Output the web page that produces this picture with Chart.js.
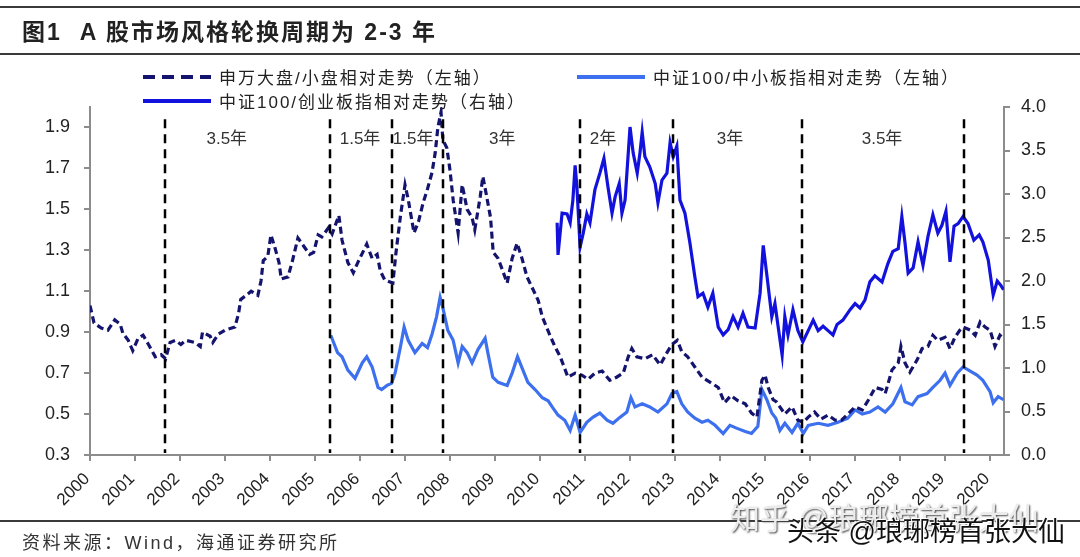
<!DOCTYPE html>
<html lang="zh-CN">
<head>
<meta charset="UTF-8">
<title>A股市场风格轮换周期为 2-3 年</title>
<script src="https://cdn.jsdelivr.net/npm/chart.js"></script>
<style>
    html, body { margin: 0; padding: 0; background: #fff; }
    body {
        width: 1080px; height: 557px; position: relative; overflow: hidden;
        font-family: "Liberation Sans", "Noto Sans CJK SC", sans-serif; color: #222;
    }
    #chart { position: absolute; left: 0; top: 0; }
    .rule { position: absolute; left: 0; width: 1080px; height: 2px; background: #3a3a3a; }
    .title { position: absolute; left: 22px; top: 13px; font-size: 23px; font-weight: bold; letter-spacing: 2px; white-space: nowrap; }
    .title .main { margin-left: 18px; }
    .legend-item { position: absolute; display: flex; align-items: center; font-size: 17px; letter-spacing: 2px; white-space: nowrap; color: #222; }
    .legend-item .swatch { width: 68px; height: 4px; margin-right: 8px; }
    .source { position: absolute; left: 22px; top: 528px; font-size: 18px; letter-spacing: 2.5px; color: #333; white-space: nowrap; }
    .wm1 { position: absolute; left: 730px; top: 494px; font-size: 30px; color: #ececec; text-shadow: 1px 1px 2px #444; white-space: nowrap; }
    .wm2 { position: absolute; left: 787px; top: 510px; font-size: 27px; color: #111; text-shadow: 1px 1px 0 #fff, -1px -1px 0 #fff; white-space: nowrap; }
</style>
</head>
<body>
<canvas id="chart" width="1080" height="557"></canvas>
<div class="rule" style="top:6px"></div>
<div class="title"><span>图1</span><span class="main">A 股市场风格轮换周期为 2-3 年</span></div>
<div class="rule" style="top:53px"></div>
<div id="legend"></div>
<div class="rule" style="top:520px"></div>
<div class="source">资料来源：Wind，海通证券研究所</div>
<div class="wm1">知乎 @琅琊榜首张大仙</div>
<div class="wm2">头条 @琅琊榜首张大仙</div>

<script>
// 申万大盘/小盘相对走势（左轴）
const swYears = [2000.0,2000.09,2000.25,2000.4,2000.55,2000.67,2000.73,2000.85,2000.95,2001.07,2001.18,2001.3,2001.45,2001.58,2001.68,2001.78,2001.9,2002.02,2002.13,2002.33,2002.45,2002.5,2002.67,2002.73,2002.85,2003.0,2003.22,2003.3,2003.35,2003.47,2003.58,2003.73,2003.8,2003.85,2003.95,2004.02,2004.1,2004.2,2004.25,2004.4,2004.5,2004.62,2004.75,2004.88,2004.97,2005.07,2005.15,2005.3,2005.38,2005.53,2005.6,2005.73,2005.85,2005.95,2006.15,2006.27,2006.38,2006.45,2006.55,2006.73,2006.8,2006.9,2006.95,2007.0,2007.07,2007.2,2007.3,2007.4,2007.5,2007.6,2007.67,2007.73,2007.8,2007.84,2007.93,2008.0,2008.07,2008.18,2008.27,2008.38,2008.49,2008.55,2008.67,2008.73,2008.8,2008.9,2008.96,2009.07,2009.22,2009.27,2009.38,2009.49,2009.6,2009.71,2009.82,2009.96,2010.05,2010.2,2010.33,2010.45,2010.62,2010.78,2010.93,2011.07,2011.22,2011.38,2011.55,2011.7,2011.85,2011.96,2012.04,2012.15,2012.33,2012.5,2012.67,2012.82,2012.93,2013.05,2013.15,2013.28,2013.44,2013.6,2013.82,2013.96,2014.1,2014.24,2014.4,2014.56,2014.7,2014.82,2014.93,2015.0,2015.07,2015.18,2015.25,2015.33,2015.44,2015.6,2015.73,2015.85,2015.96,2016.1,2016.24,2016.4,2016.56,2016.7,2016.84,2017.0,2017.16,2017.3,2017.45,2017.6,2017.67,2017.82,2017.96,2018.02,2018.11,2018.22,2018.38,2018.49,2018.62,2018.73,2018.84,2019.0,2019.11,2019.22,2019.33,2019.4,2019.56,2019.67,2019.78,2019.89,2020.0,2020.11,2020.22,2020.29];
const swValues = [1.03,0.945,0.92,0.91,0.96,0.94,0.895,0.86,0.81,0.87,0.885,0.84,0.78,0.79,0.77,0.85,0.86,0.84,0.86,0.85,0.83,0.90,0.88,0.85,0.89,0.91,0.925,0.99,1.06,1.08,1.10,1.08,1.15,1.25,1.27,1.375,1.32,1.24,1.16,1.17,1.25,1.36,1.32,1.28,1.29,1.375,1.365,1.41,1.38,1.47,1.35,1.24,1.19,1.24,1.33,1.26,1.28,1.20,1.155,1.14,1.29,1.47,1.545,1.62,1.55,1.385,1.44,1.53,1.60,1.68,1.775,1.90,1.975,1.84,1.80,1.69,1.545,1.385,1.62,1.50,1.46,1.40,1.56,1.66,1.58,1.46,1.29,1.26,1.17,1.14,1.26,1.335,1.26,1.17,1.12,1.055,0.975,0.895,0.83,0.78,0.68,0.70,0.69,0.67,0.70,0.71,0.665,0.68,0.70,0.78,0.82,0.78,0.77,0.79,0.74,0.80,0.84,0.86,0.805,0.78,0.73,0.68,0.65,0.63,0.555,0.59,0.565,0.55,0.505,0.485,0.665,0.69,0.63,0.57,0.56,0.535,0.50,0.535,0.47,0.46,0.485,0.51,0.475,0.495,0.47,0.47,0.50,0.535,0.52,0.57,0.63,0.62,0.60,0.715,0.75,0.83,0.75,0.705,0.765,0.82,0.83,0.885,0.86,0.875,0.82,0.875,0.91,0.925,0.91,0.885,0.95,0.925,0.91,0.83,0.885,0.87];

// 中证100/中小板指相对走势（左轴）
const zxbYears = [2005.35,2005.5,2005.6,2005.73,2005.89,2006.05,2006.15,2006.27,2006.4,2006.48,2006.6,2006.7,2006.78,2006.9,2006.98,2007.07,2007.22,2007.38,2007.5,2007.6,2007.7,2007.78,2007.84,2007.95,2008.07,2008.18,2008.27,2008.38,2008.49,2008.62,2008.78,2008.84,2008.95,2009.07,2009.27,2009.38,2009.5,2009.62,2009.73,2009.89,2010.05,2010.18,2010.27,2010.4,2010.55,2010.67,2010.78,2010.89,2011.04,2011.18,2011.33,2011.49,2011.62,2011.78,2011.93,2012.02,2012.11,2012.27,2012.44,2012.62,2012.82,2012.93,2013.04,2013.15,2013.28,2013.44,2013.6,2013.73,2013.89,2014.07,2014.22,2014.38,2014.56,2014.7,2014.84,2014.93,2015.04,2015.15,2015.24,2015.33,2015.44,2015.6,2015.73,2015.85,2015.96,2016.18,2016.4,2016.62,2016.84,2017.0,2017.16,2017.33,2017.51,2017.67,2017.84,2018.02,2018.11,2018.27,2018.4,2018.6,2018.73,2018.89,2019.0,2019.11,2019.27,2019.4,2019.56,2019.71,2019.84,2020.0,2020.07,2020.18,2020.3];
const zxbValues = [0.885,0.80,0.78,0.715,0.675,0.75,0.78,0.73,0.63,0.62,0.64,0.65,0.70,0.83,0.925,0.86,0.80,0.845,0.825,0.89,0.975,1.07,1.02,0.91,0.86,0.75,0.83,0.80,0.75,0.815,0.87,0.80,0.68,0.655,0.64,0.70,0.78,0.715,0.655,0.62,0.58,0.565,0.535,0.495,0.47,0.42,0.495,0.41,0.46,0.485,0.505,0.47,0.455,0.485,0.51,0.58,0.535,0.55,0.535,0.51,0.55,0.60,0.61,0.55,0.51,0.48,0.46,0.47,0.445,0.405,0.445,0.43,0.415,0.405,0.44,0.62,0.57,0.505,0.48,0.42,0.455,0.41,0.455,0.405,0.445,0.455,0.445,0.46,0.48,0.52,0.50,0.51,0.535,0.51,0.55,0.63,0.56,0.545,0.585,0.60,0.63,0.665,0.70,0.64,0.70,0.73,0.71,0.69,0.665,0.61,0.555,0.585,0.57];

// 中证100/创业板指相对走势（右轴）
const cybYears = [2010.38,2010.4,2010.49,2010.6,2010.67,2010.73,2010.78,2010.82,2010.89,2010.96,2011.04,2011.11,2011.22,2011.33,2011.42,2011.51,2011.6,2011.67,2011.76,2011.82,2011.89,2012.0,2012.07,2012.16,2012.22,2012.27,2012.33,2012.44,2012.56,2012.62,2012.71,2012.82,2012.89,2012.96,2013.04,2013.11,2013.22,2013.33,2013.44,2013.51,2013.62,2013.73,2013.84,2013.96,2014.07,2014.18,2014.29,2014.4,2014.51,2014.62,2014.78,2014.89,2014.96,2015.04,2015.15,2015.22,2015.29,2015.38,2015.44,2015.51,2015.62,2015.73,2015.84,2015.96,2016.07,2016.18,2016.29,2016.4,2016.51,2016.6,2016.73,2016.89,2017.0,2017.11,2017.22,2017.33,2017.44,2017.6,2017.73,2017.84,2017.96,2018.04,2018.11,2018.18,2018.29,2018.4,2018.51,2018.62,2018.73,2018.84,2018.93,2019.02,2019.11,2019.2,2019.29,2019.4,2019.51,2019.64,2019.76,2019.84,2019.96,2020.07,2020.16,2020.24,2020.3];
const cybValues = [2.67,2.30,2.78,2.77,2.67,2.93,3.33,3.08,2.39,2.55,2.77,2.67,3.05,3.24,3.41,3.08,2.78,2.97,3.12,2.78,2.93,3.77,3.47,3.24,3.47,3.71,3.43,3.31,3.12,2.90,3.16,3.24,3.59,3.43,3.55,2.93,2.78,2.44,2.05,1.82,1.86,1.70,1.86,1.47,1.38,1.44,1.59,1.47,1.63,1.47,1.46,1.86,2.41,2.07,1.59,1.74,1.48,1.15,1.59,1.38,1.67,1.43,1.30,1.43,1.55,1.43,1.48,1.43,1.38,1.50,1.55,1.67,1.74,1.69,1.78,1.99,2.06,1.99,2.20,2.34,2.37,2.74,2.44,2.09,2.15,2.45,2.18,2.51,2.76,2.55,2.64,2.80,2.22,2.63,2.66,2.74,2.66,2.47,2.53,2.45,2.24,1.84,2.00,1.95,1.90];

const seriesNames = ['申万大盘/小盘相对走势（左轴）', '中证100/中小板指相对走势（左轴）', '中证100/创业板指相对走势（右轴）'];

const yearTicks = [2000,2001,2002,2003,2004,2005,2006,2007,2008,2009,2010,2011,2012,2013,2014,2015,2016,2017,2018,2019,2020];
const leftTicks = [0.3,0.5,0.7,0.9,1.1,1.3,1.5,1.7,1.9];
const rightTicks = [0,0.5,1.0,1.5,2.0,2.5,3.0,3.5,4.0];

// 风格切换时点和周期标注
const cycleYears = [2001.67,2005.33,2006.71,2007.84,2010.89,2012.96,2015.82,2019.42];
const cycleLabels = ['3.5年','1.5年','1.5年','3年','2年','3年','3.5年'];
const cycleLabelYears = [2003.04,2006.0,2007.18,2009.16,2011.4,2014.22,2017.6];

const toPoints = (xs, ys) => xs.map((x, i) => ({ x: x, y: ys[i] }));

const axisColor = '#8c8c8c';
const tickFont = { family: '"Liberation Sans", Arial, sans-serif', size: 18 };

const cyclePlugin = {
    id: 'cycles',
    afterDatasetsDraw(chart) {
        const ctx = chart.ctx;
        const x = chart.scales.x, yL = chart.scales.yL;
        ctx.save();
        ctx.strokeStyle = '#000';
        ctx.lineWidth = 2.5;
        ctx.setLineDash([9, 6]);
        cycleYears.forEach(v => {
            const px = Math.round(x.getPixelForValue(v));
            ctx.beginPath();
            ctx.moveTo(px, yL.getPixelForValue(1.94));
            ctx.lineTo(px, yL.getPixelForValue(0.31));
            ctx.stroke();
        });
        ctx.setLineDash([]);
        ctx.fillStyle = '#333';
        ctx.font = '17px "Liberation Sans", "Noto Sans CJK SC", sans-serif';
        ctx.textAlign = 'center';
        ctx.textBaseline = 'middle';
        cycleLabels.forEach((t, i) => {
            ctx.fillText(t, x.getPixelForValue(cycleLabelYears[i]), yL.getPixelForValue(1.84));
        });
        ctx.restore();
    }
};

const ctx = document.getElementById('chart').getContext('2d');
const chart = new Chart(ctx, {
    type: 'line',
    data: {
        datasets: [
            { label: seriesNames[0], data: toPoints(swYears, swValues), yAxisID: 'yL',
              borderColor: '#14146e', borderWidth: 3.2, borderDash: [7, 4] },
            { label: seriesNames[1], data: toPoints(zxbYears, zxbValues), yAxisID: 'yL',
              borderColor: '#3d70ee', borderWidth: 3.2 },
            { label: seriesNames[2], data: toPoints(cybYears, cybValues), yAxisID: 'yR',
              borderColor: '#1212dc', borderWidth: 3.2 }
        ]
    },
    options: {
        responsive: false,
        animation: false,
        devicePixelRatio: 1,
        layout: { padding: { top: 107, left: 0, right: 0, bottom: 0 } },
        elements: { point: { radius: 0 }, line: { tension: 0 } },
        plugins: { legend: { display: false }, tooltip: { enabled: false }, title: { display: false } },
        scales: {
            x: {
                type: 'linear', min: 2000, max: 2020.31,
                afterBuildTicks: s => { s.ticks = yearTicks.map(v => ({ value: v })); },
                afterFit: s => { s.height = 102; },
                grid: { drawOnChartArea: false, drawTicks: true, tickLength: 6, color: axisColor, lineWidth: 2 },
                border: { display: true, color: axisColor, width: 2 },
                ticks: { autoSkip: false, minRotation: 45, maxRotation: 45, padding: 8, labelOffset: -3, color: '#222',
                         font: { family: tickFont.family, size: 17 }, callback: v => String(v) }
            },
            yL: {
                position: 'left', min: 0.3, max: 2.0,
                afterBuildTicks: s => { s.ticks = leftTicks.map(v => ({ value: v })); },
                afterFit: s => { s.width = 90; },
                grid: { drawOnChartArea: false, drawTicks: true, tickLength: 6, color: axisColor, lineWidth: 2 },
                border: { display: true, color: axisColor, width: 2 },
                ticks: { padding: 14, color: '#222', font: tickFont, callback: v => v.toFixed(1) }
            },
            yR: {
                position: 'right', min: 0, max: 4.0,
                afterBuildTicks: s => { s.ticks = rightTicks.map(v => ({ value: v })); },
                afterFit: s => { s.width = 76; },
                grid: { drawOnChartArea: false, drawTicks: true, tickLength: 6, color: axisColor, lineWidth: 2 },
                border: { display: true, color: axisColor, width: 2 },
                ticks: { padding: 11, color: '#222', font: tickFont, callback: v => v.toFixed(1) }
            }
        }
    },
    plugins: [cyclePlugin]
});

// legend in HTML, built from the datasets
const legendPos = [{ left: 143, top: 64 }, { left: 577, top: 64 }, { left: 143, top: 88 }];
const legendEl = document.getElementById('legend');
chart.data.datasets.forEach((ds, i) => {
    const item = document.createElement('div');
    item.className = 'legend-item';
    item.style.left = legendPos[i].left + 'px';
    item.style.top = legendPos[i].top + 'px';
    const sw = document.createElement('span');
    sw.className = 'swatch';
    sw.style.background = ds.borderDash
        ? 'repeating-linear-gradient(90deg, ' + ds.borderColor + ' 0 12px, transparent 12px 19px)'
        : ds.borderColor;
    const txt = document.createElement('span');
    txt.textContent = ds.label;
    item.appendChild(sw);
    item.appendChild(txt);
    legendEl.appendChild(item);
});
</script>
</body>
</html>
